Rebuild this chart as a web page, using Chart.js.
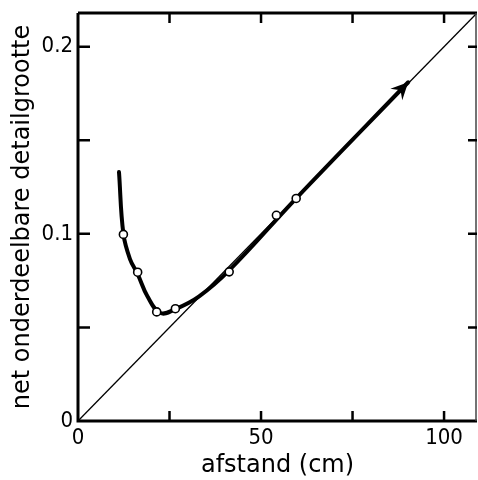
<!DOCTYPE html>
<html>
<head>
<meta charset="utf-8">
<script src="https://cdn.jsdelivr.net/npm/chart.js@4"></script>
<style>
  html, body { margin: 0; padding: 0; background: #fff; overflow: hidden; }
  canvas { display: block; }
</style>
</head>
<body>
<canvas id="chart" width="478" height="480"></canvas>
<script>
// diagonal reference line
const diagX = [0, 109]
const diagY = [0, 0.218]

// drawn curve
const curveX = [11.2, 12.4, 14.2, 16.3, 19.0, 22.5, 26.6, 33.0, 41.3, 59.6, 90.2]
const curveY = [0.133, 0.1, 0.0865, 0.0785, 0.0665, 0.0577, 0.0598, 0.0665, 0.0805, 0.119, 0.181]

// measured points
const obsX = [12.4, 16.3, 21.5, 26.6, 41.3, 54.2, 59.6]
const obsY = [0.0997, 0.0795, 0.0583, 0.060, 0.0797, 0.1099, 0.1189]

const xLabels = [0, 50, 100]
const yLabels = [0, 0.1, 0.2]

const toPts = (xs, ys) => xs.map((x, i) => ({ x, y: ys[i] }))

const tickFont = { family: "'DejaVu Sans Condensed', 'DejaVu Sans', sans-serif", size: 22 }
const titleFont = { family: "'DejaVu Sans', sans-serif", size: 24 }

const frame = {
  id: 'frame',
  afterDatasetsDraw(chart) {
    const { ctx, chartArea: a, scales } = chart
    ctx.save()
    ctx.strokeStyle = '#000'
    ctx.lineCap = 'butt'
    // axes box
    ctx.lineWidth = 3
    ctx.beginPath()
    ctx.moveTo(a.left, a.top)
    ctx.lineTo(a.left, a.bottom)
    ctx.lineTo(a.right, a.bottom)
    ctx.moveTo(a.left, a.top)
    ctx.lineTo(a.right, a.top)
    ctx.stroke()
    ctx.lineWidth = 1.5
    ctx.strokeStyle = '#444'
    ctx.beginPath()
    ctx.moveTo(a.right - 1, a.top)
    ctx.lineTo(a.right - 1, a.bottom)
    ctx.stroke()
    // inward ticks
    ctx.strokeStyle = '#000'
    ctx.lineWidth = 2.5
    ctx.beginPath()
    scales.x.ticks.forEach((t) => {
      if (t.value === 0) return
      const px = scales.x.getPixelForValue(t.value)
      ctx.moveTo(px, a.bottom)
      ctx.lineTo(px, a.bottom - 10)
      ctx.moveTo(px, a.top)
      ctx.lineTo(px, a.top + 10)
    })
    scales.y.ticks.forEach((t) => {
      if (t.value === 0) return
      const py = scales.y.getPixelForValue(t.value)
      ctx.moveTo(a.left, py)
      ctx.lineTo(a.left + 12, py)
      ctx.moveTo(a.right, py)
      ctx.lineTo(a.right - 9, py)
    })
    ctx.stroke()

    // arrow head at the end of the curve
    const meta = chart.getDatasetMeta(1)
    const n = meta.data.length
    const tip = meta.data[n - 1]
    const prev = meta.data[n - 2]
    const ang = Math.atan2(tip.y - prev.y, tip.x - prev.x)
    const len = 19
    const spread = 0.45
    ctx.fillStyle = '#000'
    ctx.beginPath()
    ctx.moveTo(tip.x, tip.y)
    ctx.lineTo(tip.x - len * Math.cos(ang - spread), tip.y - len * Math.sin(ang - spread))
    ctx.lineTo(tip.x - 11 * Math.cos(ang), tip.y - 11 * Math.sin(ang))
    ctx.lineTo(tip.x - len * Math.cos(ang + spread), tip.y - len * Math.sin(ang + spread))
    ctx.closePath()
    ctx.fill()
    ctx.restore()
  },
}

new Chart(document.getElementById('chart'), {
  type: 'scatter',
  data: {
    datasets: [
      {
        data: toPts(obsX, obsY),
        showLine: false,
        pointRadius: 4,
        pointBackgroundColor: '#fff',
        pointBorderColor: '#000',
        pointBorderWidth: 1.6,
        order: 0,
      },
      {
        data: toPts(curveX, curveY),
        showLine: true,
        borderColor: '#000',
        borderWidth: 4,
        pointRadius: 0,
        tension: 0.4,
        borderCapStyle: 'round',
        order: 1,
      },
      {
        data: toPts(diagX, diagY),
        showLine: true,
        borderColor: '#000',
        borderWidth: 1.3,
        pointRadius: 0,
        order: 2,
      },
    ],
  },
  options: {
    responsive: false,
    animation: false,
    layout: { autoPadding: false, padding: { top: 13, right: 1, left: 0, bottom: 0 } },
    plugins: { legend: { display: false }, tooltip: { enabled: false } },
    scales: {
      x: {
        type: 'linear',
        min: 0,
        max: 109,
        afterFit: (s) => { s.height = 59; s.paddingRight = 0; s.paddingLeft = 0 },
        grid: { display: false, drawTicks: false },
        border: { display: false },
        ticks: {
          stepSize: 25,
          autoSkip: false,
          includeBounds: false,
          maxRotation: 0,
          padding: 4,
          color: '#000',
          font: tickFont,
          callback: (v) => (xLabels.includes(v) ? String(v) : ''),
        },
        title: {
          display: true,
          text: 'afstand (cm)',
          color: '#000',
          font: titleFont,
          padding: 0,
        },
      },
      y: {
        type: 'linear',
        min: 0,
        max: 0.218,
        afterFit: (s) => { s.width = 78; s.paddingTop = 0; s.paddingBottom = 0 },
        grid: { display: false, drawTicks: false },
        border: { display: false },
        ticks: {
          stepSize: 0.05,
          autoSkip: false,
          includeBounds: false,
          padding: 5,
          color: '#000',
          font: tickFont,
          callback: (v) => {
            const hit = yLabels.find((l) => Math.abs(l - v) < 1e-6)
            return hit === undefined ? '' : (hit === 0 ? '0' : hit.toFixed(1))
          },
        },
        title: {
          display: true,
          text: 'net onderdeelbare detailgrootte',
          color: '#000',
          font: titleFont,
          padding: { top: 8, bottom: 0 },
        },
      },
    },
  },
  plugins: [frame],
})
</script>
</body>
</html>
